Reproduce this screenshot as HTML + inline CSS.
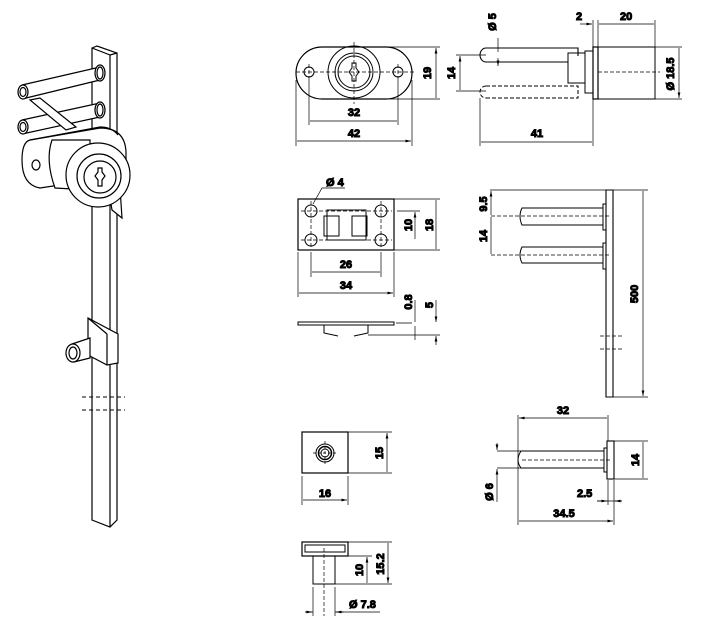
<!DOCTYPE html>
<html><head><style>body{margin:0;background:#fff}svg{display:block}text{font-family:"Liberation Sans",sans-serif;font-size:11px;font-weight:bold;fill:#000}</style></head><body>
<svg width="707" height="626" viewBox="0 0 707 626" xmlns="http://www.w3.org/2000/svg" fill="none" stroke="#000" stroke-width="1">
<defs><marker id="a" markerWidth="8" markerHeight="6" refX="8" refY="3" orient="auto-start-reverse"><path d="M0,1 L8,3 L0,5z" fill="#000" stroke="none"/></marker></defs>
<g stroke-width="1.2" fill="#fff">
<path d="M92,48 L97,46 L117,53 L117,520 L110,527 L92,520 Z"/>
<path d="M92,48 L110,55 L110,527 M110,55 L117,53" fill="none"/>
<path d="M22,85 L100,67 L100,80 L22,99" />
<ellipse cx="100" cy="73" rx="5" ry="8"/><ellipse cx="100" cy="73" rx="3" ry="6"/>
<ellipse cx="23" cy="92" rx="5" ry="7"/><ellipse cx="23" cy="92" rx="3" ry="4.5"/>
<path d="M22,120 L100,103 L100,117 L22,134"/>
<ellipse cx="100" cy="110" rx="5" ry="8"/><ellipse cx="100" cy="110" rx="3" ry="6"/>
<ellipse cx="23" cy="127" rx="5" ry="7"/><ellipse cx="23" cy="127" rx="3" ry="4.5"/>
<path d="M30,100 L40,98 L76,127 L66,130 Z"/>
<path d="M30,140 L100,128 Q125,128 126,152 L126,175 L40,188 Q22,185 22,160 Q22,142 30,140Z"/>
<path d="M30,140 L100,127 Q112,127 118,135" fill="none"/>
<ellipse cx="36" cy="165" rx="4" ry="5"/>
<path d="M52,140 Q45,160 55,188 L90,190 L90,140Z"/>
<path d="M110,198 L120,188 L122,218 L112,210Z"/>
<circle cx="98" cy="175" r="32"/><circle cx="99" cy="176" r="22"/><circle cx="100" cy="177" r="16"/>
<path d="M98,168 h4 v4 l3,4 l-3,4 v6 h-4 v-6 l-3,-4 l3,-4z"/>
<path d="M88,318 L118,334 L118,363 L107,365 L88,355 Z"/>
<path d="M107,334 L107,365 M88,318 L107,334" fill="none"/>
<path d="M72,344 L90,338 L90,358 L74,362Z"/>
<ellipse cx="73" cy="353" rx="7" ry="9"/><ellipse cx="73" cy="353" rx="4" ry="6"/>
</g>
<path d="M82,397 H125 M82,410 H125" stroke-dasharray="4,3"/>
<path d="M322,47 H386 A26,26 0 0 1 386,99 H322 A26,26 0 0 1 322,47Z" stroke-width="1.2"/>
<circle cx="354" cy="72" r="26"/><circle cx="354" cy="72" r="19"/><circle cx="354" cy="72" r="16"/>
<path d="M352,63 h4 v5 l3,4 l-3,4 v5 h-4 v-5 l-3,-4 l3,-4z"/>
<circle cx="309" cy="72" r="5"/><circle cx="398" cy="72" r="5"/>
<path d="M296,72 H414 M354,42 V104 M309,64 V80 M398,64 V80" stroke-dasharray="4,2" stroke-width=".7"/>
<path d="M386,47 H440 M386,99 H440 M309,80 V125 M398,80 V125 M296,80 V146 M412,80 V146" stroke-width=".7"/>
<path d="M436,48 V98 M310,121 H397 M297,141 H411" marker-start="url(#a)" marker-end="url(#a)" stroke-width=".7"/>
<text x="354" y="116" text-anchor="middle">32</text><text x="354" y="137" text-anchor="middle">42</text>
<text transform="translate(431,73) rotate(-90)" text-anchor="middle">19</text>
<path d="M486,48 H578 V56 M486,62 H568 M486,48 A6,7 0 0 0 486,62" stroke-width="1.1"/>
<path d="M486,86 H578 V98 H486 M486,86 A6,6 0 0 0 486,98" stroke-dasharray="4,2"/>
<rect x="568" y="53" width="17" height="30"/><rect x="585" y="51" width="8" height="42"/>
<rect x="593" y="47" width="5" height="52" stroke-width="1.2"/><rect x="598" y="47" width="57" height="52"/>
<path d="M598,72 H660" stroke-dasharray="4,2" stroke-width=".7"/>
<path d="M456,55 H486 M456,91 H486 M480,98 V146 M593,20 V146 M598,20 V47 M655,20 V47 M655,47 H682 M655,99 H682" stroke-width=".7"/>
<path d="M460,56 V90 M481,142 H592 M599,24 H654 M679,48 V98" marker-start="url(#a)" marker-end="url(#a)" stroke-width=".7"/>
<path d="M498,38 V52 M498,58 V66" stroke-width=".7" marker-end="url(#a)"/>
<path d="M580,24 H592" marker-end="url(#a)" stroke-width=".7"/>
<text x="537" y="137" text-anchor="middle">41</text><text x="576" y="20">2</text><text x="620" y="20">20</text>
<text transform="translate(455,73) rotate(-90)" text-anchor="middle">14</text>
<text transform="translate(496,22) rotate(-90)" text-anchor="middle">Ø 5</text>
<text transform="translate(674,74) rotate(-90)" text-anchor="middle">Ø 18.5</text>
<rect x="298" y="199" width="96" height="51" stroke-width="1.2"/>
<path d="M327,210 H366 V240 H327Z"/><rect x="324" y="216" width="15" height="20"/><rect x="352" y="216" width="15" height="20"/>
<circle cx="311" cy="211" r="6"/><circle cx="381" cy="211" r="6"/><circle cx="311" cy="240" r="6"/><circle cx="381" cy="240" r="6"/>
<path d="M301,211 H392 M301,240 H392 M311,201 V249 M381,201 V249" stroke-dasharray="4,2" stroke-width=".7"/>
<path d="M313,204 L322,188 H345" stroke-width=".7"/>
<text x="326" y="186">Ø 4</text>
<path d="M397,211 H420 M394,199 H440 M394,250 H440 M311,252 V277 M381,252 V277 M298,252 V297 M394,252 V297" stroke-width=".7"/>
<path d="M415,212 V239 M436,200 V249 M312,272 H380 M299,293 H393" marker-start="url(#a)" marker-end="url(#a)" stroke-width=".7"/>
<text x="346" y="268" text-anchor="middle">26</text><text x="346" y="289" text-anchor="middle">34</text>
<text transform="translate(412,225) rotate(-90)" text-anchor="middle">10</text>
<text transform="translate(433,225) rotate(-90)" text-anchor="middle">18</text>
<path d="M298,322 H394 V325 H298Z" stroke-width="1"/><path d="M324,325 V333 L338,336 M354,336 L368,333 V325"/>
<path d="M396,323 H412 M368,335 H440" stroke-width=".7"/>
<path d="M415,300 V322 M436,300 V322" marker-end="url(#a)" stroke-width=".7"/>
<path d="M415,340 V326 M436,345 V336" marker-end="url(#a)" stroke-width=".7"/>
<text transform="translate(412,302) rotate(-90)" text-anchor="middle">0.8</text>
<text transform="translate(433,305) rotate(-90)" text-anchor="middle">5</text>
<path d="M606,190 H613 V397 H606 Z" stroke-width="1.1"/>
<path d="M600,336 H624 M600,349 H624" stroke-dasharray="4,2" stroke-width=".8"/>
<rect x="603" y="204" width="3" height="26"/><rect x="603" y="243" width="3" height="26"/>
<path d="M522,208 H603 V225 H522 Q518,216 522,208Z M522,247 H603 V263 H522 Q518,255 522,247Z"/>
<path d="M491,216 H610 M491,255 H610" stroke-dasharray="4,2" stroke-width=".7"/>
<path d="M490,190 H606 M613,190 H648 M613,397 H648" stroke-width=".7"/>
<path d="M491,191 V215 M491,217 V254 M643,191 V396" marker-start="url(#a)" marker-end="url(#a)" stroke-width=".7"/>
<text transform="translate(487,204) rotate(-90)" text-anchor="middle">9.5</text>
<text transform="translate(487,236) rotate(-90)" text-anchor="middle">14</text>
<text transform="translate(638,294) rotate(-90)" text-anchor="middle">500</text>
<rect x="302" y="432" width="46" height="41" stroke-width="1.2"/>
<circle cx="325" cy="453" r="9"/><circle cx="325" cy="453" r="6.5" stroke-width="1.5"/><circle cx="325" cy="453" r="4"/>
<path d="M313,453 H337 M325,441 V465" stroke-dasharray="3,2" stroke-width=".7"/>
<path d="M348,432 H392 M348,473 H392 M302,476 V505 M348,476 V505" stroke-width=".7"/>
<path d="M387,433 V472 M303,500 H347" marker-start="url(#a)" marker-end="url(#a)" stroke-width=".7"/>
<text x="325" y="497" text-anchor="middle">16</text>
<text transform="translate(383,453) rotate(-90)" text-anchor="middle">15</text>
<rect x="302" y="542" width="46" height="14" stroke-width="1.2"/><rect x="305" y="545" width="40" height="7"/>
<rect x="313" y="556" width="22" height="28"/>
<path d="M324,548 V616" stroke-dasharray="4,2" stroke-width=".7"/>
<path d="M348,542 H392 M338,556 H372 M335,584 H392 M313,587 V616 M335,587 V616 M305,612 H313 M335,612 H380" stroke-width=".7"/>
<path d="M367,557 V583 M388,543 V583" marker-start="url(#a)" marker-end="url(#a)" stroke-width=".7"/>
<path d="M305,612 H312" marker-end="url(#a)" stroke-width=".7"/><path d="M344,612 H336" marker-end="url(#a)" stroke-width=".7"/>
<text x="349" y="608">Ø 7.8</text>
<text transform="translate(363,570) rotate(-90)" text-anchor="middle">10</text>
<text transform="translate(384,564) rotate(-90)" text-anchor="middle">15.2</text>
<path d="M521,451 H604 V468 H521 Q515,460 521,451Z"/>
<rect x="604" y="448" width="3" height="24"/><rect x="607" y="441" width="7" height="38" stroke-width="1.1"/>
<path d="M522,460 H610" stroke-dasharray="4,2" stroke-width=".7"/>
<path d="M518,415 V525 M608,415 V441 M614,441 H648 M614,479 H648 M614,480 V525 M608,480 V505 M497,451 H521 M497,468 H521 M497,480 V502 M597,501 H622" stroke-width=".7"/>
<path d="M519,418 H607 M643,442 V478 M519,521 H613" marker-start="url(#a)" marker-end="url(#a)" stroke-width=".7"/>
<path d="M497,443 V450" marker-end="url(#a)" stroke-width=".7"/><path d="M497,480 V469" marker-end="url(#a)" stroke-width=".7"/>
<path d="M597,501 H607" marker-end="url(#a)" stroke-width=".7"/><path d="M622,501 H615" marker-end="url(#a)" stroke-width=".7"/>
<text x="563" y="414" text-anchor="middle">32</text><text x="577" y="497">2.5</text><text x="564" y="517" text-anchor="middle">34.5</text>
<text transform="translate(493,492) rotate(-90)" text-anchor="middle">Ø 6</text>
<text transform="translate(639,460) rotate(-90)" text-anchor="middle">14</text>
</svg></body></html>
